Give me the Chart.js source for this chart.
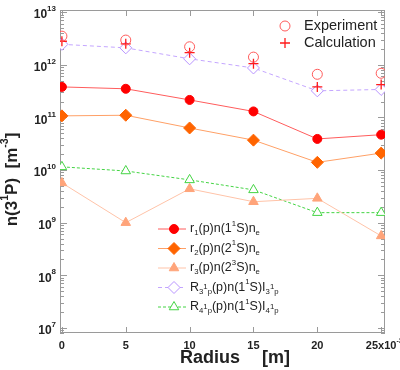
<!DOCTYPE html>
<html>
<head>
<meta charset="utf-8">
<script src="https://cdn.jsdelivr.net/npm/chart.js@4.4.1/dist/chart.umd.min.js"></script>
<style>
html, body { margin: 0; background: #fff; }
#wrap { width: 400px; height: 370px; }
</style>
</head>
<body>
<div id="wrap"><canvas id="c"></canvas></div>
<script>
// data
const radius = [0, 5, 10, 15, 20, 25];
const experiment = [3.5e12, 2.95e12, 2.2e12, 1.4e12, 6.6e11, 6.9e11];
const calculation = [2.8e12, 2.5e12, 1.7e12, 1.05e12, 3.8e11, 4.2e11];
const r1Vals = [3.8e11, 3.5e11, 2.15e11, 1.3e11, 3.9e10, 4.7e10];
const r2Vals = [1.07e11, 1.1e11, 6.3e10, 3.7e10, 1.4e10, 2.1e10];
const r3Vals = [5.7e9, 1.0e9, 4.4e9, 2.5e9, 2.9e9, 5.6e8];
const R3Vals = [2.45e12, 2.1e12, 1.3e12, 8.7e11, 3.2e11, 3.4e11];
const R4Vals = [1.15e10, 9.6e9, 6.5e9, 4.2e9, 1.55e9, 1.55e9];

const xTicks = [0, 5, 10, 15, 20, 25];
const xTickLabels = [
    [['0', 0]], [['5', 0]], [['10', 0]], [['15', 0]], [['20', 0]],
    [['25x10', 0], ['-3', 1]]
];
const yTicks = [1e7, 1e8, 1e9, 1e10, 1e11, 1e12, 1e13];
const yExponents = ['7', '8', '9', '10', '11', '12', '13'];

// texts with sub/superscripts: [text, mode] 0 normal, -1 sub, 1 sup, 2 small raised inside a sub
const yTitle = [['n(3', 0], ['1', 1], ['P)  [m', 0], ['-3', 1], [']', 0]];
const lineLabels = [
    [['r', 0], ['1', -1], ['(p)n(1', 0], ['1', 1], ['S)n', 0], ['e', -1]],
    [['r', 0], ['2', -1], ['(p)n(2', 0], ['1', 1], ['S)n', 0], ['e', -1]],
    [['r', 0], ['3', -1], ['(p)n(2', 0], ['3', 1], ['S)n', 0], ['e', -1]],
    [['R', 0], ['3', -1], ['1', 2], ['p', -1], ['(p)n(1', 0], ['1', 1], ['S)I', 0], ['3', -1], ['1', 2], ['p', -1]],
    [['R', 0], ['4', -1], ['1', 2], ['p', -1], ['(p)n(1', 0], ['1', 1], ['S)I', 0], ['4', -1], ['1', 2], ['p', -1]]
];
const markLabels = ['Experiment', 'Calculation'];

const FONT = '"Liberation Sans", Arial, sans-serif';

function pts(vals) {
    return radius.map((x, i) => ({ x: x, y: vals[i] }));
}

function partFont(m, size, weight) {
    const s = m === 0 ? size : size * 0.62;
    return (weight || '') + ' ' + s + 'px ' + FONT;
}

function richWidth(ctx, parts, size, weight) {
    let w = 0;
    parts.forEach(([t, m]) => {
        ctx.font = partFont(m, size, weight);
        w += ctx.measureText(t).width;
    });
    return w;
}

function drawRich(ctx, parts, x, y, size, weight) {
    ctx.textBaseline = 'middle';
    ctx.textAlign = 'left';
    parts.forEach(([t, m]) => {
        let dy = 0;
        if (m === -1) dy = size * 0.32;
        if (m === 1) dy = -size * 0.42;
        if (m === 2) dy = -size * 0.05;
        ctx.font = partFont(m, size, weight);
        ctx.fillText(t, x, y + dy);
        x += ctx.measureText(t).width;
    });
}

function marker(ctx, ds, x, y) {
    ctx.save();
    ctx.fillStyle = ds.pointBackgroundColor;
    ctx.strokeStyle = ds.pointBorderColor;
    ctx.lineWidth = ds.pointBorderWidth;
    Chart.helpers.drawPoint(ctx, {
        pointStyle: ds.pointStyle,
        rotation: 0,
        radius: ds.pointRadius,
        borderWidth: ds.pointBorderWidth
    }, x, y);
    ctx.restore();
}

// frame, inward ticks, labels with superscripts, two legends
const framePlugin = {
    id: 'frame',
    beforeDatasetsDraw(chart) {
        const { ctx, chartArea: a, scales } = chart;
        const x = scales.x, y = scales.y;
        ctx.save();
        ctx.strokeStyle = '#9a9a9a';
        ctx.lineWidth = 1;
        ctx.strokeRect(a.left + 0.5, a.top + 0.5, a.right - a.left - 1, a.bottom - a.top - 1);
        ctx.beginPath();
        xTicks.forEach(v => {
            const px = Math.round(x.getPixelForValue(v)) + 0.5;
            ctx.moveTo(px, a.bottom); ctx.lineTo(px, a.bottom - 6);
            ctx.moveTo(px, a.top); ctx.lineTo(px, a.top + 6);
        });
        for (let e = 6; e <= 13; e++) {
            for (let k = 1; k <= 9; k++) {
                const v = k * Math.pow(10, e);
                if (v < y.min || v > y.max) continue;
                const len = k === 1 ? 7 : 4;
                const py = Math.round(y.getPixelForValue(v)) + 0.5;
                ctx.moveTo(a.left, py); ctx.lineTo(a.left + len, py);
                ctx.moveTo(a.right, py); ctx.lineTo(a.right - len, py);
            }
        }
        ctx.stroke();
        ctx.restore();
    },
    afterDraw(chart) {
        const { ctx, chartArea: a, scales } = chart;
        const x = scales.x, y = scales.y;
        const sets = chart.data.datasets;
        ctx.save();
        ctx.fillStyle = '#222';

        // y tick labels 10^n
        yTicks.forEach((v, i) => {
            const py = y.getPixelForValue(v);
            ctx.font = 'bold 8px ' + FONT;
            const ew = ctx.measureText(yExponents[i]).width;
            ctx.textBaseline = 'middle';
            ctx.textAlign = 'left';
            ctx.fillText(yExponents[i], 56 - ew, py - 3);
            ctx.font = 'bold 12px ' + FONT;
            ctx.textAlign = 'right';
            ctx.fillText('10', 56 - ew, py + 3);
        });

        // x tick labels
        xTicks.forEach((v, i) => {
            const px = x.getPixelForValue(v);
            const parts = xTickLabels[i];
            const w = richWidth(ctx, parts.slice(0, 1), 11, 'bold');
            drawRich(ctx, parts, px - w / 2, a.bottom + 13, 11, 'bold');
        });

        // x title
        ctx.font = 'bold 18px ' + FONT;
        ctx.textAlign = 'left';
        ctx.textBaseline = 'middle';
        ctx.fillText('Radius', 180, 358);
        ctx.fillText('[m]', 262, 358);

        // y title, rotated
        ctx.save();
        const tw = richWidth(ctx, yTitle, 17, 'bold');
        ctx.translate(12, (a.top + a.bottom) / 2 + 8);
        ctx.rotate(-Math.PI / 2);
        drawRich(ctx, yTitle, -tw / 2, 0, 17, 'bold');
        ctx.restore();

        // top right legend: markers only
        [0, 1].forEach(i => {
            const yy = 26 + i * 17;
            marker(ctx, sets[i], 285, yy);
            ctx.fillStyle = '#222';
            ctx.font = '14.5px ' + FONT;
            ctx.textBaseline = 'middle';
            ctx.textAlign = 'left';
            ctx.fillText(markLabels[i], 304, yy);
        });

        // lower legend: line + marker
        lineLabels.forEach((parts, i) => {
            const ds = sets[i + 2];
            const yy = 229 + i * 19.5;
            ctx.save();
            ctx.strokeStyle = ds.borderColor;
            ctx.lineWidth = ds.borderWidth;
            ctx.setLineDash(ds.borderDash || []);
            ctx.beginPath();
            ctx.moveTo(158, yy); ctx.lineTo(186, yy);
            ctx.stroke();
            ctx.restore();
            marker(ctx, ds, 174, yy);
            ctx.fillStyle = '#222';
            drawRich(ctx, parts, 190, yy, 12.5, '');
        });
        ctx.restore();
    }
};

const ctx = document.getElementById('c').getContext('2d');
new Chart(ctx, {
    type: 'line',
    data: {
        datasets: [
            {
                label: 'Experiment', data: pts(experiment), showLine: false,
                pointStyle: 'circle', pointRadius: 5, pointBorderWidth: 1,
                pointBackgroundColor: 'rgba(255,255,255,0)', pointBorderColor: '#ff5a5a'
            },
            {
                label: 'Calculation', data: pts(calculation), showLine: false,
                pointStyle: 'cross', pointRadius: 5, pointBorderWidth: 1.3,
                pointBackgroundColor: '#ff1a1a', pointBorderColor: '#ff1a1a'
            },
            {
                label: 'r1', data: pts(r1Vals), borderColor: '#ff5c5c', borderWidth: 1,
                pointStyle: 'circle', pointRadius: 4.5, pointBorderWidth: 1,
                pointBackgroundColor: '#ff0000', pointBorderColor: '#ff0000'
            },
            {
                label: 'r2', data: pts(r2Vals), borderColor: '#ffa066', borderWidth: 1,
                pointStyle: 'rectRot', pointRadius: 6, pointBorderWidth: 1,
                pointBackgroundColor: '#ff6400', pointBorderColor: '#ff6400'
            },
            {
                label: 'r3', data: pts(r3Vals), borderColor: '#ffc3a8', borderWidth: 1,
                pointStyle: 'triangle', pointRadius: 5.5, pointBorderWidth: 1,
                pointBackgroundColor: '#ffa47a', pointBorderColor: '#ffa47a'
            },
            {
                label: 'R3', data: pts(R3Vals), borderColor: '#c4a6ff', borderWidth: 1,
                borderDash: [4, 3],
                pointStyle: 'rectRot', pointRadius: 6, pointBorderWidth: 1,
                pointBackgroundColor: '#ffffff', pointBorderColor: '#b894ff'
            },
            {
                label: 'R4', data: pts(R4Vals), borderColor: '#44d444', borderWidth: 1,
                borderDash: [3, 2],
                pointStyle: 'triangle', pointRadius: 5.5, pointBorderWidth: 1,
                pointBackgroundColor: '#ffffff', pointBorderColor: '#44d444'
            }
        ]
    },
    options: {
        responsive: true,
        maintainAspectRatio: false,
        animation: false,
        layout: { padding: { top: 10, right: 15, left: 0, bottom: 0 } },
        plugins: {
            legend: { display: false },
            tooltip: { enabled: false }
        },
        scales: {
            x: {
                type: 'linear',
                min: -0.15,
                max: 25.3,
                afterBuildTicks: s => { s.ticks = xTicks.map(v => ({ value: v })); },
                afterFit: s => { s.height = 37; s.paddingLeft = 0; s.paddingRight = 0; },
                grid: { display: false },
                border: { display: false },
                ticks: { display: false }
            },
            y: {
                type: 'logarithmic',
                min: 8e6,
                max: 1.1e13,
                afterBuildTicks: s => { s.ticks = yTicks.map(v => ({ value: v, major: true })); },
                afterFit: s => { s.width = 60; s.paddingTop = 0; s.paddingBottom = 0; },
                grid: { display: false },
                border: { display: false },
                ticks: { display: false }
            }
        }
    },
    plugins: [framePlugin]
});
</script>
</body>
</html>
